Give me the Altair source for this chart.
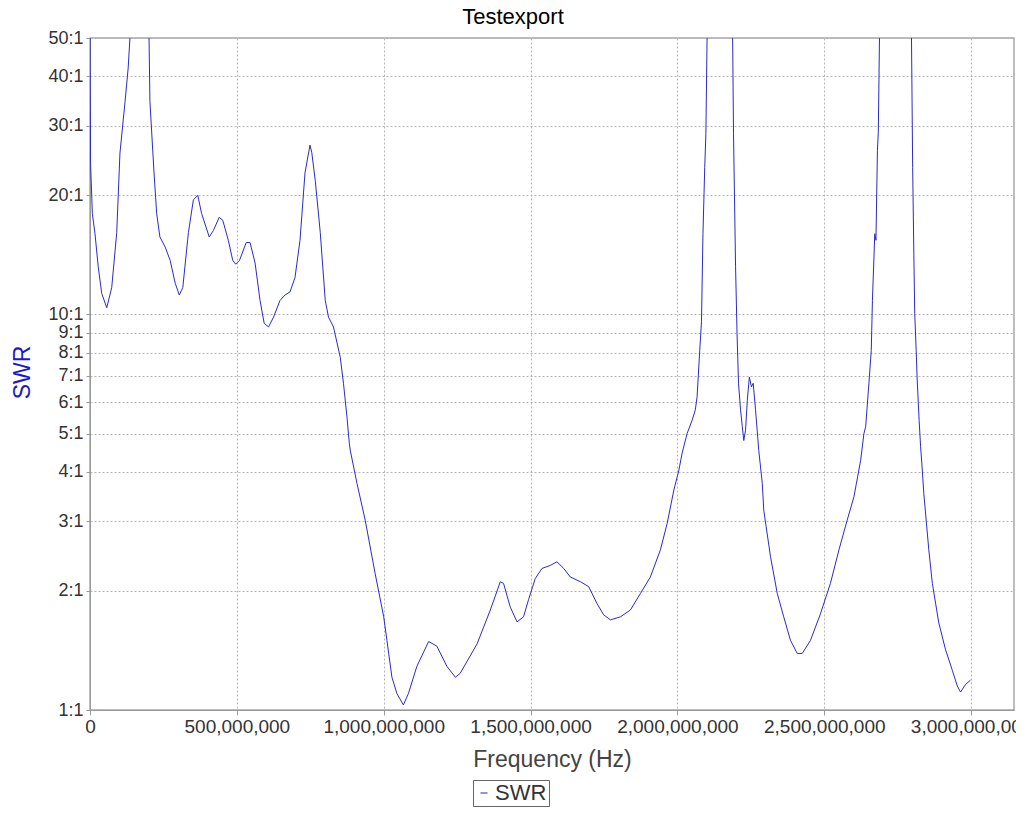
import altair as alt
import pandas as pd

# Frequency in MHz and SWR values
freq_mhz = [0, 2, 8, 17, 28, 40, 57, 74, 91, 102, 119, 130, 136, 150, 170, 190, 201, 204, 218, 227, 238,
            256, 273, 290, 304, 316, 335, 352, 367, 380, 406, 420, 440, 452, 471, 486, 496, 509, 532, 545,
            562, 579, 593, 608, 625, 647, 664, 681, 698, 715, 732, 749, 755, 767, 784, 801, 812, 829, 852,
            863, 875, 883, 886, 909, 937, 971, 1000, 1011, 1028, 1045, 1067, 1084, 1113, 1153, 1181, 1215,
            1244, 1261, 1318, 1363, 1397, 1408, 1431, 1454, 1476, 1493, 1516, 1539, 1567, 1590, 1613, 1635,
            1670, 1698, 1726, 1749, 1772, 1806, 1840, 1874, 1908, 1942, 1965, 1988, 2005, 2016, 2033, 2050,
            2061, 2067, 2076, 2082, 2087, 2093, 2097, 2101, 2130, 2160, 2188, 2191, 2198, 2203, 2208, 2215,
            2221, 2226, 2232, 2238, 2245, 2252, 2258, 2266, 2277, 2289, 2294, 2317, 2340, 2362, 2385, 2408,
            2425, 2453, 2487, 2521, 2550, 2578, 2601, 2624, 2635, 2641, 2652, 2660, 2664, 2672, 2676, 2681,
            2684, 2688, 2740, 2797, 2801, 2805, 2808, 2813, 2816, 2823, 2828, 2833, 2839, 2856, 2868, 2890,
            2913, 2936, 2953, 2964, 2981, 2998]
swr = [55, 24, 18.0, 16.0, 13.2, 11.3, 10.4, 11.7, 16.1, 25.6, 34.3, 42, 50, 65, 80, 70, 50, 34.6, 22.8, 18.0, 15.7,
       14.8, 13.7, 12.0, 11.2, 11.7, 16.1, 19.5, 20.0, 18.0, 15.7, 16.3, 17.6, 17.3, 15.4, 13.7, 13.4, 13.7, 15.2, 15.2,
       13.5, 10.85, 9.5, 9.3, 9.85, 10.85, 11.2, 11.4, 12.4, 15.4, 22.8, 26.8, 25.7, 21.8, 16.1, 10.85, 9.85, 9.3, 7.8,
       6.7, 5.5, 4.72, 4.54, 3.74, 3.02, 2.21, 1.72, 1.50, 1.21, 1.10, 1.03, 1.10, 1.29, 1.49, 1.45, 1.29,
       1.21, 1.24, 1.47, 1.79, 2.11, 2.09, 1.82, 1.67, 1.72, 1.90, 2.15, 2.28, 2.32, 2.37, 2.28, 2.17,
       2.11, 2.05, 1.86, 1.74, 1.69, 1.72, 1.79, 1.97, 2.17, 2.54, 2.96, 3.60, 4.04, 4.46, 5.0, 5.4,
       5.74, 6.19, 8.1, 9.6, 16.0, 23.5, 28.7, 50, 90, 80, 50, 28.7, 13.2, 8.96, 6.7, 5.74,
       5.2, 4.8, 5.1, 6.07, 6.95, 6.56, 6.7, 5.74, 4.53, 3.74, 3.2, 2.44, 1.97, 1.72, 1.50, 1.39,
       1.39, 1.50, 1.75, 2.09, 2.54, 3.02, 3.46, 4.28, 5.0, 5.2, 6.7, 8.1, 10.85, 16.0, 15.4, 26.0,
       28.9, 50, 80, 50, 23.5, 14.2, 10.06, 8.1, 6.95, 5.4, 4.63, 4.12, 3.52, 2.54, 2.09, 1.66,
       1.42, 1.26, 1.15, 1.11, 1.16, 1.19]

y_ticks = [1, 2, 3, 4, 5, 6, 7, 8, 9, 10, 20, 30, 40, 50]
x_ticks = [0, 500e6, 1000e6, 1500e6, 2000e6, 2500e6, 3000e6]

df = pd.DataFrame({"freq": [f * 1e6 for f in freq_mhz], "swr": swr, "series": ["SWR"] * len(swr)})

FONT = "Liberation Sans"
grid = dict(grid=True, gridColor="#b4b4b4", gridDash=[2, 2], gridWidth=1)

chart = alt.Chart(df).mark_line(clip=True, strokeWidth=1).encode(
    x=alt.X("freq:Q",
            scale=alt.Scale(domain=[0, 3.146e9], nice=False, zero=False),
            axis=alt.Axis(values=x_ticks, format=",d", title="Frequency (Hz)",
                          labelFontSize=19, labelColor="#333333", labelFont=FONT,
                          titleFontSize=23, titleColor="#444444", titleFont=FONT, titleFontWeight="normal",
                          titleY=49, titleBaseline="middle",
                          tickSize=5, tickColor="#999999", domainColor="#999999", labelPadding=2,
                          labelOverlap=False, labelFlush=False, **grid)),
    y=alt.Y("swr:Q",
            scale=alt.Scale(type="log", domain=[1, 50], nice=False),
            axis=alt.Axis(values=y_ticks, labelExpr="datum.value + ':1'", title="SWR",
                          labelFontSize=18, labelColor="#333333", labelFont=FONT,
                          titleFontSize=23, titleColor="#1a1acc", titleFont=FONT, titleFontWeight="normal",
                          titleX=-68, titleY=334, titleAlign="center", titleBaseline="middle", titleAngle=-90,
                          tickSize=4, tickColor="#999999", domainColor="#999999", labelPadding=3,
                          labelOverlap=False, **grid)),
    color=alt.Color("series:N", scale=alt.Scale(range=["#2b2bc4"]),
                    legend=alt.Legend(title=None, orient="none", legendX=383, legendY=742,
                                      symbolType="stroke", symbolSize=50, symbolStrokeWidth=1,
                                      labelFontSize=22, labelFont=FONT, labelColor="#333333",
                                      strokeColor="#666666", padding=2, symbolOffset=-2, labelOffset=0)),
).properties(
    width=924, height=672,
    title=alt.TitleParams("Testexport", fontSize=22, font=FONT, fontWeight="normal", color="black",
                          anchor="middle", dx=-39, offset=0),
    autosize=alt.AutoSizeParams(type="none"),
    padding={"left": 82, "top": 30, "right": 2, "bottom": 100},
).configure_view(stroke="#a8a8a8", strokeWidth=1.5)

chart.save("out.html", embed_options={"renderer": "svg", "actions": False})
